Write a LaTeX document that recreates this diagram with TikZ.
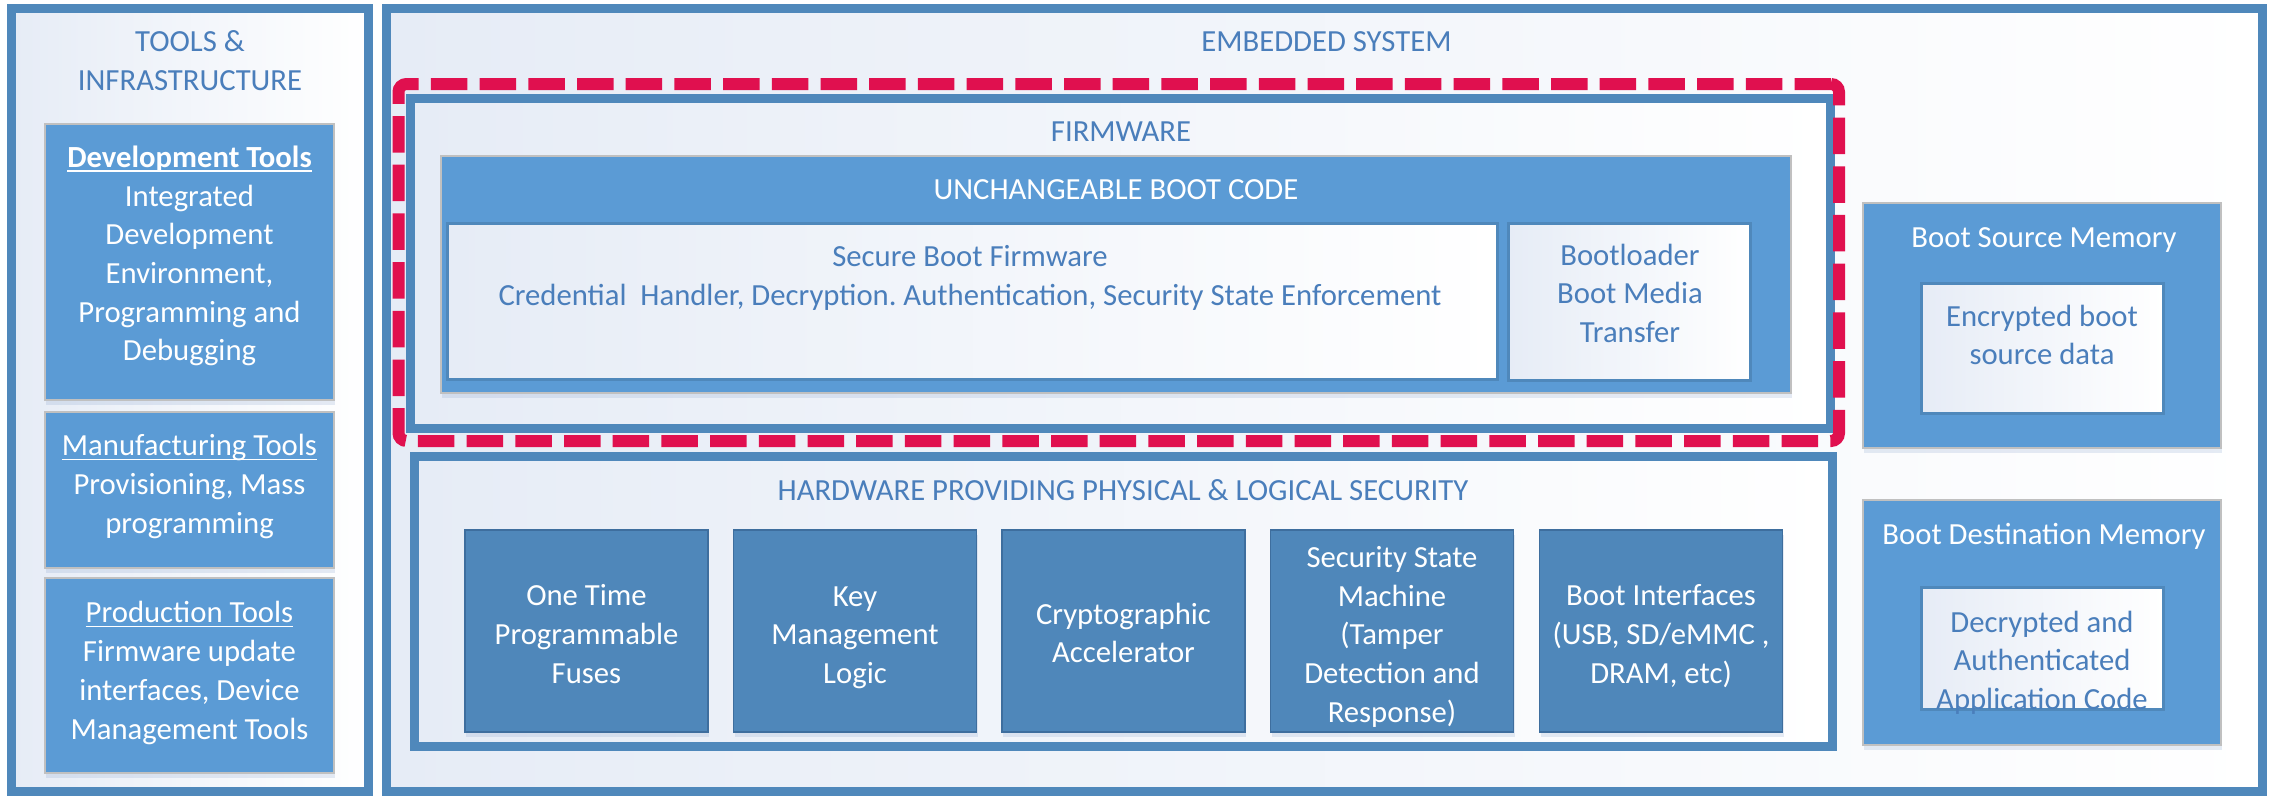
\documentclass[tikz,border=0pt]{standalone}
\usepackage{fontspec}
\setmainfont{Carlito}
\usetikzlibrary{shadows}

\definecolor{panelline}{HTML}{4F88BB}
\definecolor{cLight}{HTML}{5B9BD5}
\definecolor{hwfill}{HTML}{4F87BA}
\definecolor{hwline}{HTML}{3E6E9E}
\definecolor{titleblue}{HTML}{4A7EBB}
\definecolor{paleA}{HTML}{E6ECF6}
\definecolor{ringred}{HTML}{E0104F}
\definecolor{boxgray}{HTML}{C0C0C0}
\definecolor{shadowblue}{HTML}{7F9CC8}

% underline at a fixed depth below the baseline
\newcommand{\undertext}[1]{\setbox0\hbox{#1}\rlap{\rule[-4.5pt]{\wd0}{1.8pt}}\box0}

\begin{document}
\frenchspacing
\begin{tikzpicture}[x=1pt,y=-1pt,
  every node/.style={font=\fontsize{30.7}{38.7}\selectfont, inner sep=0pt, outer sep=0pt},
  panel/.style={rectangle, draw=panelline, line width=9pt, left color=paleA, right color=white},
  dashring/.style={rectangle, draw=ringred, line width=12pt, dash pattern=on 36.5pt off 12.2pt, rounded corners=8pt},
  softshadow/.style={drop shadow={shadow xshift=1pt, shadow yshift=-5pt, opacity=0.2, fill=shadowblue}},
  lbox/.style={rectangle, fill=cLight, draw=boxgray, line width=1.5pt, softshadow},
  hwbox/.style={rectangle, fill=hwfill, draw=hwline, line width=1.5pt, softshadow, minimum width=243pt, minimum height=202pt},
  wbox/.style={rectangle, draw=panelline, line width=3pt, left color=paleA, right color=white},
  ttl/.style={text=titleblue, align=center},
  wtxt/.style={text=white, align=center},
  btxt/.style={text=titleblue, align=center}
]
\useasboundingbox (0,0) rectangle (2269,796);
\fill[white] (0,0) rectangle (2269,796);

% ---------- tools & infrastructure ----------
\node[panel, minimum width=357pt, minimum height=783pt] (tools) at (190,400) {};
\node[ttl] (toolsttl) at (190,60.5) {TOOLS \&\\INFRASTRUCTURE};

\node[lbox, minimum width=289pt, minimum height=276pt] (dev) at (189.5,262) {};
\node[wtxt] (devtxt) at (189.5,256) {\undertext{\textbf{Development Tools}}\\Integrated\\Development\\Environment,\\Programming and\\Debugging};

\node[lbox, minimum width=289pt, minimum height=156pt] (manu) at (189.5,490) {};
\node[wtxt] (manutxt) at (189.5,486.6) {\undertext{Manufacturing Tools}\\Provisioning, Mass\\programming};

\node[lbox, minimum width=289pt, minimum height=195pt] (prod) at (189.5,675.5) {};
\node[wtxt] (prodtxt) at (189.5,673) {\undertext{Production Tools}\\Firmware update\\interfaces, Device\\Management Tools};

% ---------- embedded system ----------
\node[panel, minimum width=1876pt, minimum height=783pt] (emb) at (1324.5,400) {};
\node[ttl] (embttl) at (1326.5,42) {EMBEDDED SYSTEM};

% firmware
\node[panel, minimum width=1419.5pt, minimum height=329.5pt] (fw) at (1120.25,263.25) {};
\node[ttl] (fwttl) at (1121,132) {FIRMWARE};

\node[lbox, minimum width=1350pt, minimum height=237pt] (ucb) at (1116,274.5) {};
\node[wtxt] (ucbttl) at (1116,190) {UNCHANGEABLE BOOT CODE};

\node[wbox, minimum width=1050pt, minimum height=156pt] (sbf) at (972,301) {};
\node[btxt] (sbftxt) at (970,278) {Secure Boot Firmware\\Credential\ \ Handler, Decryption. Authentication, Security State Enforcement};

\node[wbox, minimum width=242pt, minimum height=157pt] (bl) at (1629,301.5) {};
\node[btxt] (bltxt) at (1630,293.2) {Bootloader\\Boot Media\\Transfer};

\node[dashring, minimum width=1440.5pt, minimum height=357pt] (ring) at (1118.75,262.5) {};

% hardware
\node[panel, minimum width=1418.5pt, minimum height=289.5pt] (hw) at (1123.25,601.25) {};
\node[ttl] (hwttl) at (1123,490) {HARDWARE PROVIDING PHYSICAL \& LOGICAL SECURITY};

\node[hwbox] (otp) at (586.5,631) {};
\node[hwbox] (kml) at (855,631) {};
\node[hwbox] (cra) at (1123.5,631) {};
\node[hwbox] (ssm) at (1392,631) {};
\node[hwbox] (bif) at (1661,631) {};
\node[wtxt] (otptxt) at (586.5,634) {One Time\\Programmable\\Fuses};
\node[wtxt] (kmltxt) at (855,637.5) {Key\\Management\\Logic};
\node[wtxt] (cratxt) at (1123.5,633) {Cryptographic\\Accelerator};
\node[wtxt] (ssmtxt) at (1392,636.7) {Security State\\Machine\\(Tamper\\Detection and\\Response)};
\node[wtxt] (biftxt) at (1661,636) {Boot Interfaces\\(USB, SD/eMMC ,\\DRAM, etc)};

% boot memories
\node[lbox, minimum width=358pt, minimum height=245pt] (bsm) at (2042,325.5) {};
\node[wtxt] (bsmttl) at (2044,240.5) {Boot Source Memory};
\node[wbox, minimum width=242pt, minimum height=130pt] (enc) at (2042,348) {};
\node[btxt] (enctxt) at (2042,335) {Encrypted boot\\source data};

\node[lbox, minimum width=358pt, minimum height=245pt] (bdm) at (2042,622.5) {};
\node[wtxt] (bdmttl) at (2044,536.5) {Boot Destination Memory};
\node[wbox, minimum width=242pt, minimum height=122pt] (dec) at (2042,648) {};
\node[btxt] (dectxt) at (2042,662.6) {Decrypted and\\Authenticated\\Application Code};
\end{tikzpicture}
\end{document}
